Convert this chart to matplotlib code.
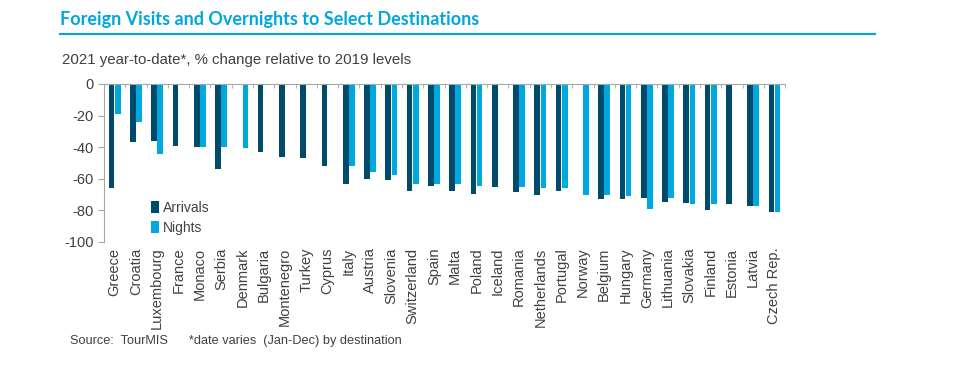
import numpy as np
import matplotlib
matplotlib.use("Agg")
import matplotlib.pyplot as plt

plt.rcParams["font.family"] = ["Liberation Sans", "DejaVu Sans"]
plt.rcParams["axes.unicode_minus"] = False

countries = ["Greece", "Croatia", "Luxembourg", "France", "Monaco", "Serbia",
             "Denmark", "Bulgaria", "Montenegro", "Turkey", "Cyprus", "Italy",
             "Austria", "Slovenia", "Switzerland", "Spain", "Malta", "Poland",
             "Iceland", "Romania", "Netherlands", "Portugal", "Norway", "Belgium",
             "Hungary", "Germany", "Lithuania", "Slovakia", "Finland", "Estonia",
             "Latvia", "Czech Rep."]
nan = np.nan
arrivals = [-66, -37, -36, -39, -40, -53.5, nan, -43, -46, -47, -52, -63,
            -60, -60.5, -68, -64.5, -68, -69.5, -65, -68.5, -70.5, -67.5, nan, -73,
            -72.5, -72, -74.5, -75.5, -79.5, -76, -77.5, -81]
nights = [-19, -24, -44, nan, -40, -40, -40.5, nan, nan, nan, nan, -52,
          -56, -57.5, -63, -63.5, -63.5, -64.5, nan, -65.5, -66, -66, -70, -70.5,
          -71, -79, -72, -76, -76, nan, -77.5, -81]

DARK = "#004b6b"
LIGHT = "#00a8e0"
GREY = "#404040"
AXC = "#a6a6a6"

fig = plt.figure(figsize=(9.54, 3.66), dpi=100)
ax = fig.add_axes([0.109, 0.3388, 0.714, 0.4317])

x = np.arange(len(countries))
w = 0.27
ax.bar(x - w / 2 - 0.01, arrivals, w, color=DARK, label="Arrivals")
ax.bar(x + w / 2 + 0.01, nights, w, color=LIGHT, label="Nights")

ax.set_xlim(-0.5, len(countries) - 0.5)
ax.set_ylim(-100, 0)
ax.set_yticks(np.arange(-100, 1, 20))
ax.set_xticks(x)
ax.set_xticklabels(countries, rotation=90, fontsize=10.5, color=GREY)
ax.set_xticks(np.arange(-0.5, len(countries), 1), minor=True)
ax.tick_params(axis="x", which="major", length=0, pad=4)
ax.tick_params(axis="x", which="minor", top=True, bottom=False,
               direction="in", length=3, color=AXC)
ax.tick_params(axis="y", labelsize=10.5, labelcolor=GREY, color=AXC, length=4)

for s in ["right", "bottom"]:
    ax.spines[s].set_visible(False)
ax.spines["top"].set_color(AXC)
ax.spines["left"].set_color(AXC)

ax.legend(loc="lower left", bbox_to_anchor=(0.05, -0.035), frameon=False,
          fontsize=10, handlelength=0.6, handleheight=0.9, handletextpad=0.3,
          labelspacing=0.45, labelcolor=GREY)

fig.text(0.063, 0.948, "Foreign Visits and Overnights to Select Destinations",
         fontsize=13, fontweight="bold", color="#00a6de", family="Lato",
         va="center")
fig.add_artist(plt.Line2D([0.063, 0.917], [0.908, 0.908], color="#00a6de", lw=1.5))
fig.text(0.065, 0.835, "2021 year-to-date*, % change relative to 2019 levels",
         fontsize=10.8, color=GREY, va="center")
fig.text(0.073, 0.068, "Source:  TourMIS      *date varies  (Jan-Dec) by destination",
         fontsize=9.2, color=GREY, va="center")

fig.savefig("out.png", dpi=100)
